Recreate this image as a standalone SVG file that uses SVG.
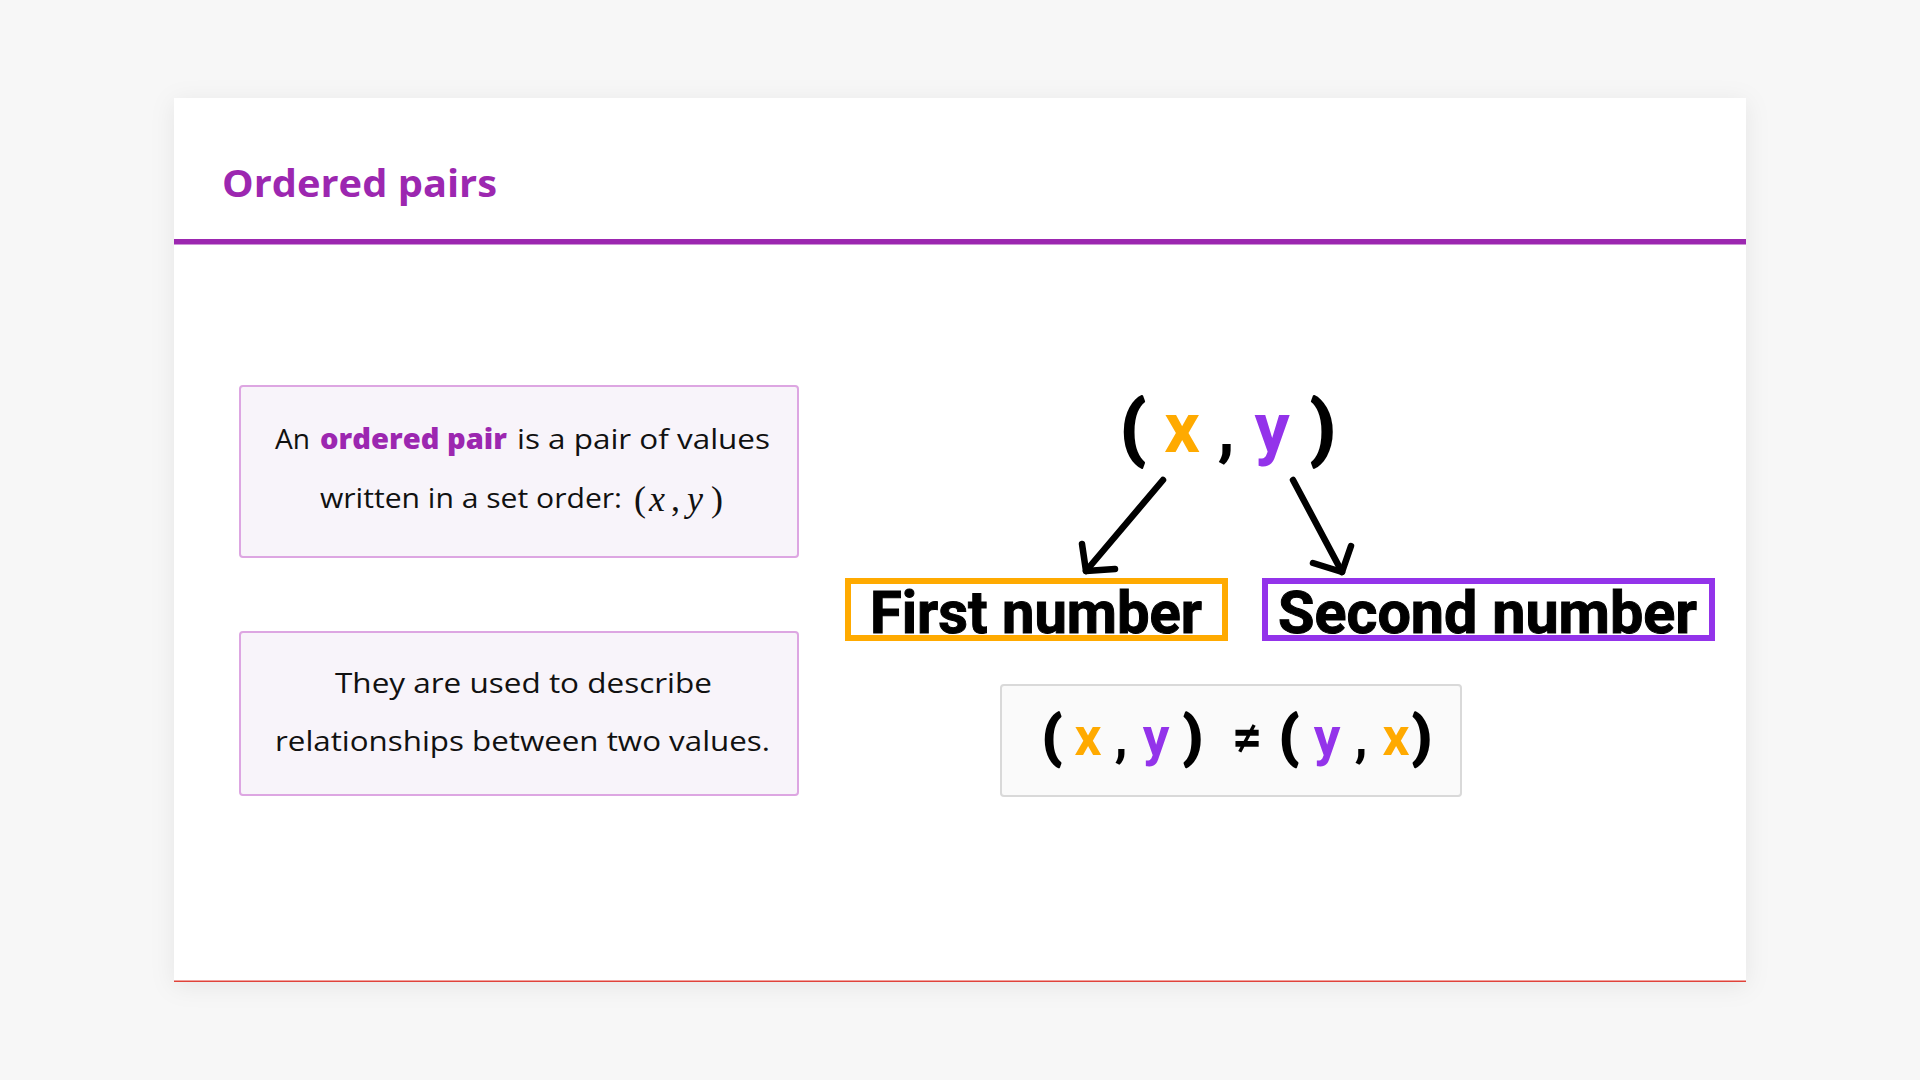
<svg xmlns="http://www.w3.org/2000/svg" width="1920" height="1080" viewBox="0 0 1920 1080">
  <defs>
    <filter id="shadow" x="-5%" y="-5%" width="110%" height="115%">
      <feDropShadow dx="0" dy="4" stdDeviation="12" flood-color="#000" flood-opacity="0.07"/>
    </filter>
    <style>
      .title { font-family: "Open Sans", "Liberation Sans", sans-serif; font-weight: 700; font-size: 37px; fill: #9C27B0; }
      .body { font-family: "Open Sans", "Liberation Sans", sans-serif; font-size: 28px; fill: #111; }
      .bodyb { font-family: "Open Sans", "Liberation Sans", sans-serif; font-size: 28px; font-weight: 800; fill: #9C27B0; }
      .math { font-family: "Liberation Serif", "DejaVu Serif", serif; font-size: 36px; fill: #111; }
      .mathi { font-family: "Liberation Serif", "DejaVu Serif", serif; font-size: 36px; font-style: italic; fill: #111; }
      .big { font-family: Roboto, "Open Sans", sans-serif; font-weight: 700; font-size: 70px; fill: #000; text-anchor: middle; }
      .eq { font-family: Roboto, "Open Sans", sans-serif; font-weight: 700; font-size: 53px; fill: #000; text-anchor: middle; }
      .lbl { font-family: Roboto, "Open Sans", sans-serif; font-weight: 700; font-size: 59px; fill: #000; }
      .heavy { stroke: #000; stroke-width: 2.5; stroke-linejoin: round; }
      .lblheavy { stroke: #000; stroke-width: 1; }
      .orange { fill: #FFAA00; }
      .purple { fill: #9333EA; }
      .card { fill: #F8F4FA; stroke: #DDA6E2; stroke-width: 2; }
      .arrow { fill: none; stroke: #000; stroke-width: 6.5; stroke-linecap: round; stroke-linejoin: round; }
    </style>
  </defs>

  <rect x="0" y="0" width="1920" height="1080" fill="#F7F7F7"/>

  <g id="slide">
    <rect x="174" y="98" width="1572" height="884" fill="#FFFFFF" filter="url(#shadow)"/>
    <rect x="174" y="980.5" width="1572" height="1.5" fill="#E0433A"/>
    <rect x="174" y="239" width="1572" height="5.5" fill="#9C27B0"/>
    <text class="title" x="222" y="197" textLength="275" lengthAdjust="spacingAndGlyphs">Ordered pairs</text>
  </g>

  <g id="definition">
    <rect class="card" x="240" y="386" width="558" height="171" rx="3"/>
    <text class="body" x="275" y="449" textLength="35" lengthAdjust="spacingAndGlyphs">An</text>
    <text class="bodyb" x="320" y="449" textLength="187" lengthAdjust="spacingAndGlyphs">ordered pair</text>
    <text class="body" x="517" y="449" textLength="253" lengthAdjust="spacingAndGlyphs">is a pair of values</text>
    <text class="body" x="320" y="508" textLength="302" lengthAdjust="spacingAndGlyphs">written in a set order:</text>
    <text class="math" x="634" y="511">(</text>
    <text class="mathi" x="649" y="511">x</text>
    <text class="math" x="671" y="511">,</text>
    <text class="mathi" x="687" y="511">y</text>
    <text class="math" x="711" y="511">)</text>
  </g>

  <g id="usage">
    <rect class="card" x="240" y="632" width="558" height="163" rx="3"/>
    <text class="body" x="335" y="693" textLength="377" lengthAdjust="spacingAndGlyphs">They are used to describe</text>
    <text class="body" x="275" y="751" textLength="495" lengthAdjust="spacingAndGlyphs">relationships between two values.</text>
  </g>

  <g id="pair">
    <text class="big heavy" x="1133" y="452">(</text>
    <text class="big orange" x="1182" y="452">x</text>
    <text class="big" x="1226" y="452">,</text>
    <text class="big purple" x="1272" y="452">y</text>
    <text class="big heavy" x="1323" y="452">)</text>
  </g>

  <g id="first-number">
    <rect x="848" y="581" width="377" height="57" fill="#FFFFFF" stroke="#FFAA00" stroke-width="6"/>
    <text class="lbl lblheavy" x="870" y="633" textLength="332" lengthAdjust="spacingAndGlyphs">First number</text>
  </g>

  <g id="second-number">
    <rect x="1265" y="581" width="447" height="57" fill="#FFFFFF" stroke="#9333EA" stroke-width="6"/>
    <text class="lbl lblheavy" x="1278" y="633" textLength="419" lengthAdjust="spacingAndGlyphs">Second number</text>
  </g>

  <g id="inequality">
    <rect x="1001" y="685" width="460" height="111" rx="3" fill="#FAFAFA" stroke="#D9D9D9" stroke-width="2"/>
    <text class="eq heavy" x="1052" y="755">(</text>
    <text class="eq orange" x="1088" y="755">x</text>
    <text class="eq" x="1121" y="755">,</text>
    <text class="eq purple" x="1156" y="755">y</text>
    <text class="eq heavy" x="1193" y="755">)</text>
    <text class="eq" x="1247" y="755">≠</text>
    <text class="eq heavy" x="1289" y="755">(</text>
    <text class="eq purple" x="1327" y="755">y</text>
    <text class="eq" x="1361" y="755">,</text>
    <text class="eq orange" x="1396" y="755">x</text>
    <text class="eq heavy" x="1422" y="755">)</text>
  </g>

  <g id="connectors">
    <path class="arrow" d="M1163,480 L1086,571"/>
    <path class="arrow" d="M1082,544 L1086,571 L1115,569"/>
    <path class="arrow" d="M1293,480 L1342,572"/>
    <path class="arrow" d="M1313,563 L1342,572 L1351,546"/>
  </g>
</svg>
